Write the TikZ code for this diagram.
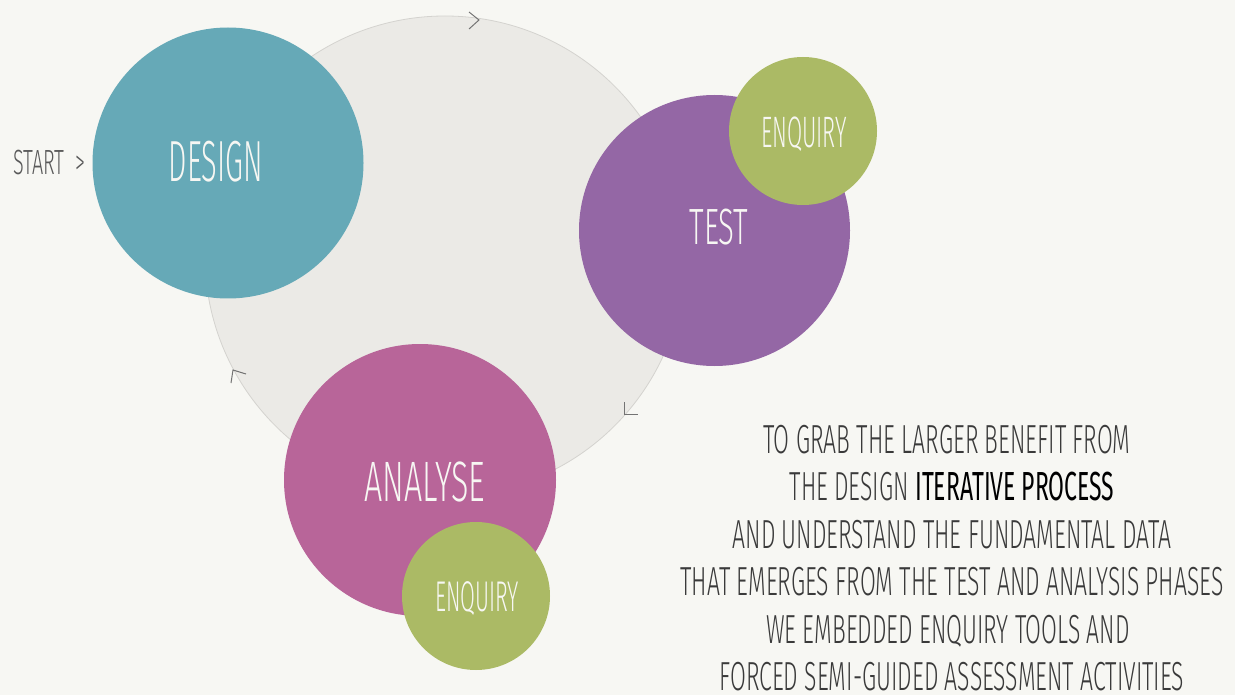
\documentclass[tikz,border=0pt]{standalone}
\usepackage{fontspec}
\newfontfamily\hand{Fira Sans Light}[FakeStretch=0.5, BoldFont={Fira Sans}]
\newfontfamily\handw{Fira Sans Light}[FakeStretch=0.565, BoldFont={Fira Sans}]

\definecolor{paper}{HTML}{F7F7F3}
\definecolor{loopfill}{HTML}{EBEAE6}
\definecolor{loopline}{HTML}{D4D3CF}
\definecolor{designc}{HTML}{66A9B7}
\definecolor{testc}{HTML}{9467A5}
\definecolor{analysec}{HTML}{B86599}
\definecolor{enquiryc}{HTML}{ABBA65}
\definecolor{ink}{HTML}{3A3A3A}

\tikzset{
  bubble/.style={circle, inner sep=0pt},
  tag/.style={text=paper, anchor=base},
  note/.style={text=ink, anchor=base, font=\handw\fontsize{40.6}{48}\selectfont},
  tick/.style={draw=black!55, line width=1pt}
}

\begin{document}
\begin{tikzpicture}[x=1pt, y=-1pt]
    \fill[paper] (0,0) rectangle (1235,695);
    \useasboundingbox (0,0) rectangle (1235,695);

    % 反復のループ
    \coordinate (O) at (445,256);
    \draw[loopline, fill=loopfill, line width=0.8pt] (O) circle (240);
    \draw[tick] (469,12) -- (479,20) -- (469,29);
    \draw[tick] (624,402) -- (624,414) -- (638,414);
    \draw[tick] (246,374) -- (233,370) -- (231,383);

    % 三つのフェーズ
    \node[bubble, fill=designc, minimum size=271pt] (design) at (228,163) {};
    \node[bubble, fill=testc, minimum size=271pt] (test) at (714.5,230.5) {};
    \node[bubble, fill=enquiryc, minimum size=148pt] (enqA) at (803,131) {};
    \node[bubble, fill=analysec, minimum size=272pt] (analyse) at (420,480) {};
    \node[bubble, fill=enquiryc, minimum size=148pt] (enqB) at (476,596) {};

    \node[tag, font=\hand\fontsize{58}{60}\selectfont] (designlbl) at (216,182) {DESIGN};
    \node[tag, font=\hand\fontsize{51}{54}\selectfont, xscale=1.15] (testlbl) at (719,245) {TEST};
    \node[tag, font=\handw\fontsize{57}{60}\selectfont] (analyselbl) at (425,501) {ANALYSE};
    \node[tag, font=\hand\fontsize{44}{46}\selectfont] (enqAlbl) at (804,148) {ENQUIRY};
    \node[tag, font=\hand\fontsize{43}{46}\selectfont] (enqBlbl) at (477,611) {ENQUIRY};

    \node[anchor=base west, text=black!65, font=\handw\fontsize{35}{38}\selectfont] (start) at (10,175) {START~~>};

    % 説明文
    \node[note] (msg1) at (947,453) {TO GRAB THE LARGER BENEFIT FROM};
    \node[note] (msg2) at (952,500) {THE DESIGN {\color{black}\bfseries ITERATIVE PROCESS}};
    \node[note] (msg3) at (952,548) {AND UNDERSTAND THE FUNDAMENTAL DATA};
    \node[note] (msg4) at (952,595) {THAT EMERGES FROM THE TEST AND ANALYSIS PHASES};
    \node[note] (msg5) at (948,643) {WE EMBEDDED ENQUIRY TOOLS AND};
    \node[note] (msg6) at (952,690) {FORCED SEMI-GUIDED ASSESSMENT ACTIVITIES};
\end{tikzpicture}
\end{document}
